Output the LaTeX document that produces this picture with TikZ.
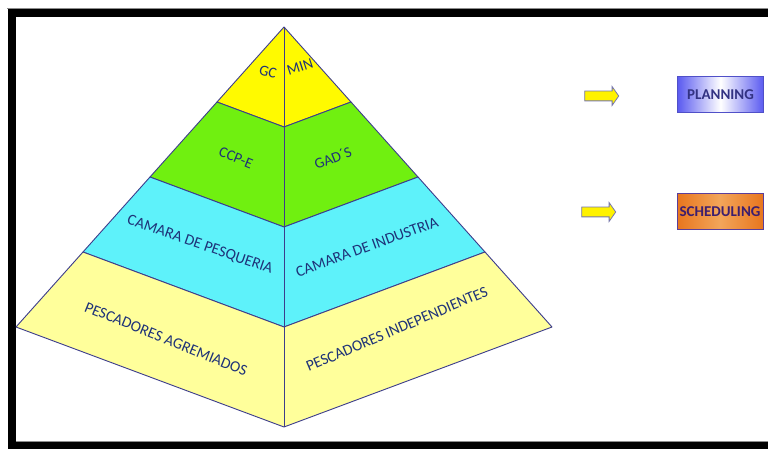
\documentclass[tikz,border=0pt]{standalone}
\usepackage{fontspec}
\setmainfont{Carlito}
\usetikzlibrary{shapes.arrows}
\definecolor{edgec}{RGB}{60,60,140}
\definecolor{txtc}{RGB}{30,50,120}
\definecolor{lvlA}{RGB}{255,250,0}
\definecolor{lvlB}{RGB}{112,240,16}
\definecolor{lvlC}{RGB}{94,242,250}
\definecolor{lvlD}{RGB}{255,255,155}
\definecolor{planblue}{RGB}{90,90,240}
\definecolor{planedge}{RGB}{80,80,200}
\definecolor{schedor}{RGB}{232,118,30}
\definecolor{schedlight}{RGB}{242,165,90}
\definecolor{schededge}{RGB}{90,62,154}
\definecolor{schedtxt}{RGB}{60,30,110}
\definecolor{plantxt}{RGB}{50,50,130}
\tikzset{
  face/.style={draw=edgec, line width=0.9pt, line join=round},
  lbl/.style={text=txtc, font=\fontsize{15.5}{17}\selectfont, inner sep=0pt},
  smalllbl/.style={text=txtc, font=\fontsize{15}{17}\selectfont, inner sep=0pt},
  yarrow/.style={shape=single arrow, draw=edgec!70, fill=yellow, line width=0.8pt,
    minimum height=34pt, inner sep=4.5pt, single arrow head extend=4.5pt,
    single arrow tip angle=110},
  tagbox/.style={minimum width=86pt, minimum height=36pt, inner sep=0pt, line width=1pt,
    font=\bfseries\fontsize{15}{17}\selectfont}
}
\begin{document}
\begin{tikzpicture}[x=1pt,y=-1pt]
\useasboundingbox (0,0) rectangle (768,449);
\fill[white] (0,0) rectangle (768,449);
% frame
\fill[black!45] (7,8) rectangle (768,9);
\fill[black] (8,9) rectangle (768,17);
\fill[black] (8,9) rectangle (16,449);
\fill[black!45] (16,441) rectangle (768,442);
\fill[black] (8,442) rectangle (768,449);
% pyramid coordinates
\coordinate (A) at (284,27);
\coordinate (L1) at (217,102); \coordinate (C1) at (284,127); \coordinate (R1) at (351,102);
\coordinate (L2) at (150,177); \coordinate (C2) at (284,227); \coordinate (R2) at (418,177);
\coordinate (L3) at (83,252);  \coordinate (C3) at (284,327); \coordinate (R3) at (485,252);
\coordinate (L) at (16,327);   \coordinate (C) at (284,427);  \coordinate (R) at (552,327);
% levels
\filldraw[face, fill=lvlA] (A) -- (L1) -- (C1) -- (R1) -- cycle;
\filldraw[face, fill=lvlB] (L1) -- (L2) -- (C2) -- (R2) -- (R1) -- (C1) -- cycle;
\filldraw[face, fill=lvlC] (L2) -- (L3) -- (C3) -- (R3) -- (R2) -- (C2) -- cycle;
\filldraw[face, fill=lvlD] (L3) -- (L) -- (C) -- (R) -- (R3) -- (C3) -- cycle;
\draw[face] (A) -- (C);
% labels
\node[smalllbl, rotate=-15] (gc) at (268,72) {GC};
\node[smalllbl, rotate=18] (min) at (300,67) {MIN};
\node[smalllbl, rotate=-22] (ccpe) at (236,158) {CCP-E};
\node[smalllbl, rotate=22] (gads) at (333,158) {GAD´S};
\node[lbl, rotate=-19] (cpesq) at (200,245) {CAMARA DE PESQUERIA};
\node[lbl, rotate=20] (cind) at (367,247) {CAMARA DE INDUSTRIA};
\node[lbl, rotate=-22] (pagr) at (166,339) {PESCADORES AGREMIADOS};
\node[lbl, rotate=23] (pind) at (397,329) {PESCADORES INDEPENDIENTES};
% right side
\node[yarrow] (arr1) at (600,96) {};
\node[yarrow] (arr2) at (597,212) {};
\node[tagbox, draw=planedge, left color=planblue, right color=planblue, middle color=white,
  text=plantxt] (plan) at (720.5,95) {PLANNING};
\node[tagbox, draw=schededge, left color=schedor, right color=schedor, middle color=schedlight,
  text=schedtxt] (sched) at (720,211.5) {SCHEDULING};
\end{tikzpicture}
\end{document}
